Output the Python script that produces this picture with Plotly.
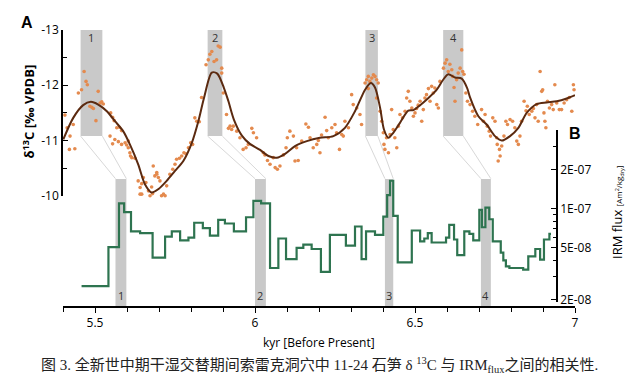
import plotly.graph_objects as go

# ---------------- data ----------------
# delta13C scatter (kyr BP, permil VPDB)
d13c_x = [5.406, 5.413, 5.422, 5.420, 5.437, 5.432, 5.448, 5.458, 5.466, 5.472, 5.476, 5.484, 5.490, 5.495,
          5.503, 5.510, 5.521, 5.516, 5.526, 5.549, 5.555, 5.560, 5.568, 5.576, 5.583, 5.547, 5.555, 5.562,
          5.573, 5.583, 5.594, 5.599, 5.604, 5.609, 5.611, 5.615, 5.625, 5.604, 5.635, 5.641, 5.651, 5.659,
          5.667, 5.677, 5.682, 5.687, 5.693, 5.698, 5.703, 5.708, 5.714, 5.719, 5.646, 5.672, 5.724, 5.734,
          5.743, 5.750, 5.755, 5.764, 5.771, 5.778, 5.784, 5.792, 5.799, 5.805, 5.812, 5.818, 5.826, 5.833,
          5.847, 5.854, 5.859, 5.865, 5.872, 5.880, 5.885, 5.891, 5.896, 5.896, 5.901, 5.911, 5.917, 5.922,
          5.927, 5.932, 5.943, 5.953, 5.963, 5.972, 5.979, 5.990, 5.995, 6.005,
          5.644, 5.672, 5.703, 5.680, 5.646, 5.641, 5.716, 5.665, 5.677, 5.700, 5.693,
          6.026, 6.039, 6.047, 6.057, 6.063, 6.070, 6.031, 6.078, 6.089, 6.097, 6.101, 6.109, 6.120, 6.125,
          6.135, 6.130, 6.146, 6.159, 6.167, 6.172, 6.182, 6.193, 6.198, 6.203, 6.208, 6.219, 6.224, 6.229,
          6.240, 6.250, 6.255, 6.264, 6.271, 6.276, 6.281, 6.292, 6.302, 6.307, 6.318, 6.328, 6.333, 6.344,
          6.349, 6.354, 6.359, 6.365, 6.370, 6.375, 6.380, 6.385, 6.354, 6.380, 6.391, 6.396, 6.401, 6.403,
          6.406, 6.411, 6.417, 6.422, 6.427, 6.432, 6.437, 6.443, 6.448, 6.453, 6.461, 6.469, 6.474, 6.479,
          6.484, 6.490, 6.495, 6.500, 6.505, 6.510, 6.516, 6.521, 6.526, 6.531, 6.536, 6.542, 6.547, 6.552,
          6.557, 6.562, 6.568, 6.573, 6.578, 6.589, 6.594, 6.599, 6.604, 6.609, 6.615, 6.618, 6.622, 6.625,
          6.630, 6.635, 6.641, 6.646, 6.649, 6.653, 6.659, 6.664, 6.672, 6.680, 6.687, 6.696,
          6.708, 6.714, 6.719, 6.726, 6.732, 6.736, 6.743, 6.750, 6.755, 6.757, 6.764, 6.766, 6.760, 6.771,
          6.778, 6.784, 6.789, 6.797, 6.805, 6.812, 6.818, 6.823, 6.828, 6.833, 6.841, 6.847, 6.851, 6.857,
          6.865, 6.870, 6.875, 6.880, 6.885, 6.891, 6.896, 6.899, 6.903, 6.906, 6.909, 6.914, 6.920, 6.927,
          6.932, 6.937, 6.943, 6.951, 6.958, 6.966, 6.974, 6.982, 6.990, 6.995, 6.997]
d13c_y = [-11.46, -11.23, -11.08, -10.84, -10.85, -11.29, -11.86, -11.92, -12.25, -12.07, -12.01, -11.62, -11.60, -11.58,
          -11.36, -11.89, -11.70, -11.68, -11.66, -11.50, -11.42, -11.36, -11.23, -11.24, -11.18, -11.08, -10.94, -11.02,
          -10.98, -10.93, -10.96, -10.92, -10.87, -10.78, -10.72, -10.69, -10.68, -10.99, -10.27, -10.15, -10.33, -10.24,
          -10.09, -10.16, -10.54, -10.36, -10.42, -10.33, -10.27, -10.00, -10.03, -10.00, -10.03, -10.00, -10.18, -10.39,
          -10.48, -10.57, -10.66, -10.68, -10.72, -10.78, -10.76, -10.87, -10.96, -10.93, -11.41, -11.35, -11.34, -11.78,
          -12.37, -12.46, -12.56, -12.61, -12.43, -12.46, -12.71, -12.69, -12.31, -12.22, -11.86, -11.47, -11.22, -11.26,
          -11.20, -11.26, -11.17, -11.05, -10.84, -10.87, -10.93, -11.22, -11.14, -11.05,
          -9.86, -9.80, -9.84, -10.04, -10.22, -10.03, -9.98, -9.98, -9.90, -9.99, -10.39,
          -10.78, -10.64, -10.57, -10.69, -10.51, -10.48, -10.74, -10.54, -10.74, -10.87, -11.05, -11.17, -11.08, -10.63,
          -10.64, -10.87, -10.99, -11.30, -11.24, -11.05, -10.87, -10.93, -11.00, -10.78, -11.10, -11.42, -11.18, -11.05,
          -11.23, -11.29, -11.14, -10.84, -11.11, -11.08, -11.35, -11.23, -11.83, -11.65, -11.59, -11.47, -11.29, -12.04,
          -12.10, -12.16, -12.07, -12.13, -12.19, -12.16, -12.10, -12.04, -11.94, -11.77, -11.53, -11.35, -11.14, -10.93,
          -10.84, -11.05, -10.78, -11.11, -11.56, -11.20, -11.05, -10.87, -11.26, -11.47, -11.41, -11.53, -11.77, -11.89,
          -11.71, -11.59, -11.44, -11.50, -11.58, -11.64, -11.71, -11.35, -11.56, -11.77, -11.83, -11.94, -11.71, -11.98,
          -11.86, -11.95, -11.65, -11.59, -12.07, -12.31, -12.40, -12.46, -12.25, -12.38, -12.28, -12.16, -11.96, -11.71,
          -12.10, -12.22, -12.31, -12.64, -12.25, -12.20, -11.86, -11.71, -11.65, -11.53, -11.44, -11.29,
          -11.56, -11.35, -11.47, -11.26, -11.17, -11.08, -11.41, -11.35, -11.05, -10.93, -10.84, -10.72, -10.63, -10.90,
          -11.08, -11.35, -11.29, -11.38, -11.35, -11.23, -10.99, -10.93, -11.08, -11.35, -11.71, -11.54, -11.62, -11.47,
          -11.53, -11.58, -11.41, -11.65, -11.35, -12.25, -11.89, -11.92, -11.50, -11.35, -11.23, -11.71, -11.59, -11.65,
          -11.56, -12.01, -11.68, -11.56, -11.56, -11.68, -11.74, -11.78, -11.53, -12.01, -11.92]

# smoothed delta13C curve
curve_x = [5.401, 5.432, 5.463, 5.487, 5.510, 5.537, 5.5625, 5.588, 5.609, 5.635, 5.656, 5.677, 5.698, 5.724,
           5.750, 5.776, 5.802, 5.823, 5.841, 5.865, 5.882, 5.903, 5.917, 5.934, 5.959, 5.984, 6.016, 6.042,
           6.068, 6.094, 6.125, 6.162, 6.203, 6.245, 6.281, 6.3125, 6.344, 6.362, 6.375, 6.391, 6.403, 6.417,
           6.432, 6.453, 6.479, 6.495, 6.516, 6.542, 6.568, 6.588, 6.604, 6.625, 6.646, 6.663, 6.672, 6.698,
           6.724, 6.750, 6.771, 6.797, 6.823, 6.849, 6.880, 6.911, 6.943, 6.974, 7.000]
curve_y = [-11.02, -11.41, -11.64, -11.70, -11.65, -11.53, -11.35, -11.17, -10.93, -10.57, -10.21, -10.06, -10.12, -10.27,
           -10.45, -10.63, -10.95, -11.35, -11.78, -12.23, -12.21, -11.95, -11.71, -11.38, -11.09, -10.94, -10.83, -10.72,
           -10.69, -10.76, -10.90, -10.99, -11.05, -11.08, -11.23, -11.53, -11.92, -12.04, -11.96, -11.59, -11.20, -11.05,
           -11.14, -11.32, -11.54, -11.55, -11.64, -11.77, -11.92, -12.10, -12.20, -12.14, -12.12, -11.95, -11.78, -11.44,
           -11.29, -11.08, -11.00, -11.08, -11.23, -11.50, -11.66, -11.69, -11.71, -11.76, -11.82]

# IRM flux steps (left edge of each step, value)
irm_x = [5.458, 5.542, 5.575, 5.591, 5.6125, 5.641, 5.680, 5.719, 5.740, 5.766, 5.792, 5.810, 5.837, 5.859,
         5.885, 5.906, 5.934, 5.972, 5.995, 6.019, 6.047, 6.073, 6.097, 6.130, 6.151, 6.177, 6.206, 6.234,
         6.284, 6.3125, 6.333, 6.347, 6.375, 6.401, 6.413, 6.422, 6.432, 6.446, 6.490, 6.516, 6.529, 6.540,
         6.552, 6.597, 6.607, 6.622, 6.632, 6.654, 6.670, 6.682, 6.701, 6.709, 6.720, 6.732, 6.743, 6.768,
         6.776, 6.784, 6.795, 6.838, 6.854, 6.876, 6.891, 6.903, 6.920]
irm_end = 6.925
irm_val = [2.54e-8, 5.07e-8, 1.10e-7, 9.4e-8, 6.7e-8, 6.5e-8, 4.2e-8, 6.1e-8, 6.7e-8, 5.7e-8, 6.0e-8, 7.8e-8, 7.1e-8, 6.2e-8,
           8.2e-8, 7.7e-8, 6.7e-8, 8.6e-8, 1.15e-7, 1.10e-7, 3.5e-8, 5.9e-8, 4.1e-8, 5.0e-8, 5.3e-8, 4.9e-8, 3.27e-8, 6.3e-8,
           5.2e-8, 7.3e-8, 4.1e-8, 6.7e-8, 6.3e-8, 8.7e-8, 1.27e-7, 1.64e-7, 8.8e-8, 3.87e-8, 6.8e-8, 5.6e-8, 5.9e-8, 6.5e-8,
           5.5e-8, 6.0e-8, 7.5e-8, 5.8e-8, 4.4e-8, 6.7e-8, 6.4e-8, 5.7e-8, 9.8e-8, 7.2e-8, 1.02e-7, 8.3e-8, 5.6e-8, 4.6e-8,
           4.0e-8, 3.6e-8, 3.5e-8, 3.4e-8, 4.3e-8, 4.9e-8, 4.06e-8, 5.8e-8, 6.4e-8]

# highlighted intervals
event_labels = ["1", "2", "3", "4"]
top_bar_x0 = [5.455, 5.852, 6.345, 6.588]
top_bar_x1 = [5.523, 5.898, 6.384, 6.651]
bot_bar_x0 = [5.564, 6.000, 6.406, 6.706]
bot_bar_x1 = [5.598, 6.034, 6.432, 6.737]

x_ticks = [5.5, 6.0, 6.5, 7.0]
x_ticktext = ["5.5", "6", "6.5", "7"]
x_minor = [5.4, 5.6, 5.7, 5.8, 5.9, 6.1, 6.2, 6.3, 6.4, 6.6, 6.7, 6.8, 6.9]
y_ticks = [-13, -12, -11, -10]
y_ticktext = ["-13", "-12", "-11", "-10"]
y_minor = [-12.5, -11.5, -10.5]
y2_ticks = [2e-8, 5e-8, 1e-7, 2e-7]
y2_ticktext = ["2E-08", "5E-08", "1E-07", "2E-07"]
y2_minor = [3e-8, 4e-8, 6e-8, 7e-8, 8e-8, 9e-8, 3e-7, 4e-7]

# ---------------- figure ----------------
FONT = "Open Sans, Liberation Sans, sans-serif"
fig = go.Figure()

fig.add_trace(go.Scatter(x=d13c_x, y=d13c_y, mode="markers", xaxis="x", yaxis="y",
                         marker=dict(size=3.6, color="#e48a4e", line=dict(width=0)),
                         cliponaxis=False, hoverinfo="skip"))
fig.add_trace(go.Scatter(x=curve_x, y=curve_y, mode="lines", xaxis="x", yaxis="y",
                         line=dict(color="#5b2a10", width=2, shape="spline", smoothing=0.8)))
fig.add_trace(go.Scatter(x=irm_x + [irm_end], y=irm_val + [irm_val[-1]], mode="lines",
                         xaxis="x", yaxis="y2",
                         line=dict(color="#2e7450", width=2.2, shape="hv")))

shapes = []
annotations = []
BAR = "#c9c9c9"
TOP_BAR_BOTTOM = -11.08
BOT_BAR_TOP_Y = -10.31      # same height expressed on the upper axis
BOT_BAR_TOP_PAPER = 0.4607
for i, lab in enumerate(event_labels):
    shapes.append(dict(type="rect", xref="x", yref="y", x0=top_bar_x0[i], x1=top_bar_x1[i],
                       y0=-13.0, y1=TOP_BAR_BOTTOM, fillcolor=BAR, line=dict(width=0), layer="below"))
    shapes.append(dict(type="rect", xref="x", yref="paper", x0=bot_bar_x0[i], x1=bot_bar_x1[i],
                       y0=0, y1=BOT_BAR_TOP_PAPER, fillcolor=BAR, line=dict(width=0), layer="below"))
    shapes.append(dict(type="line", xref="x", yref="y", x0=top_bar_x0[i], x1=bot_bar_x0[i],
                       y0=TOP_BAR_BOTTOM, y1=BOT_BAR_TOP_Y, line=dict(color="#d8d8d8", width=1), layer="below"))
    shapes.append(dict(type="line", xref="x", yref="y", x0=top_bar_x1[i], x1=bot_bar_x1[i],
                       y0=TOP_BAR_BOTTOM, y1=BOT_BAR_TOP_Y, line=dict(color="#d8d8d8", width=1), layer="below"))
    annotations.append(dict(x=(top_bar_x0[i] + top_bar_x1[i]) / 2, y=-12.86, xref="x", yref="y",
                            xanchor="center", yanchor="middle",
                            text=lab, showarrow=False, font=dict(family=FONT, size=11, color="#333")))
    annotations.append(dict(x=(bot_bar_x0[i] + bot_bar_x1[i]) / 2, y=0.04, xref="x", yref="paper",
                            xanchor="center", yanchor="middle",
                            text=lab, showarrow=False, font=dict(family=FONT, size=11, color="#333")))

annotations += [
    dict(x=-0.07, y=1.025, xref="paper", yref="paper", text="<b>A</b>", showarrow=False,
         xanchor="center", yanchor="middle",
         font=dict(family="Liberation Sans, Arial", size=16, color="black")),
    dict(x=1.0, y=0.625, xref="paper", yref="paper", text="<b>B</b>", showarrow=False,
         xanchor="center", yanchor="middle",
         font=dict(family="Liberation Sans, Arial", size=16, color="black")),
    dict(x=-0.068, y=0.704, xref="paper", yref="paper", textangle=-90, showarrow=False,
         xanchor="center", yanchor="middle",
         text="<b>δ<sup>13</sup>C [‰ VPDB]</b>", font=dict(family=FONT, size=13, color="black")),
    dict(x=1.083, y=0.34, xref="paper", yref="paper", textangle=-90, showarrow=False,
         xanchor="center", yanchor="middle",
         text="IRM flux <span style='font-size:8px'>[Am<sup>2</sup>/kg<sub>dry</sub>]</span>",
         font=dict(family=FONT, size=13, color="black")),
    dict(x=0.5, y=-0.129, xref="paper", yref="paper", showarrow=False,
         xanchor="center", yanchor="middle",
         text="kyr [Before Present]", font=dict(family=FONT, size=12, color="black")),
    dict(x=0.5, y=-0.207, xref="paper", yref="paper", showarrow=False,
         xanchor="center", yanchor="middle",
         text="图 3. 全新世中期干湿交替期间索雷克洞穴中 11-24 石笋 δ <sup>13</sup>C 与 IRM<sub>flux</sub>之间的相关性.",
         font=dict(family="Liberation Serif, Noto Sans CJK SC, serif", size=15, color="#222")),
]

fig.update_layout(
    width=641, height=390,
    margin=dict(l=55, r=74, t=19, b=91),
    paper_bgcolor="white", plot_bgcolor="rgba(0,0,0,0)",
    showlegend=False,
    shapes=shapes, annotations=annotations,
    font=dict(family=FONT, size=12, color="black"),
    xaxis=dict(domain=[0, 1], range=[5.4, 7.0], anchor="free", position=0,
               showline=True, linecolor="black", linewidth=1.5, mirror=False,
               ticks="outside", ticklen=5, tickwidth=1.3, tickcolor="black",
               tickvals=x_ticks, ticktext=x_ticktext, tickfont=dict(size=12),
               minor=dict(tickmode="array", tickvals=x_minor, ticks="outside", ticklen=4,
                          tickwidth=1.2, tickcolor="black", showgrid=False),
               showgrid=False, zeroline=False),
    yaxis=dict(domain=[0.4, 0.9964], range=[-10, -13], anchor="x",
               showline=True, linecolor="black", linewidth=1.5,
               ticks="inside", ticklen=5, tickwidth=1.3, tickcolor="black",
               tickvals=y_ticks, ticktext=y_ticktext, tickfont=dict(size=12),
               minor=dict(tickmode="array", tickvals=y_minor, ticks="inside", ticklen=4,
                          tickwidth=1.2, tickcolor="black", showgrid=False),
               showgrid=False, zeroline=False),
    yaxis2=dict(type="log", domain=[0.01786, 0.6357], range=[-7.7176, -6.3969],
                anchor="free", position=0.9648, side="right",
                showline=True, linecolor="black", linewidth=1.5,
                ticks="inside", ticklen=5, tickwidth=1.3, tickcolor="black",
                tickvals=y2_ticks, ticktext=y2_ticktext, tickfont=dict(size=12),
                minor=dict(tickmode="array", tickvals=y2_minor, ticks="inside", ticklen=3,
                           tickwidth=1.2, tickcolor="black", showgrid=False),
                showgrid=False, zeroline=False),
)

fig.write_html("out.html")
